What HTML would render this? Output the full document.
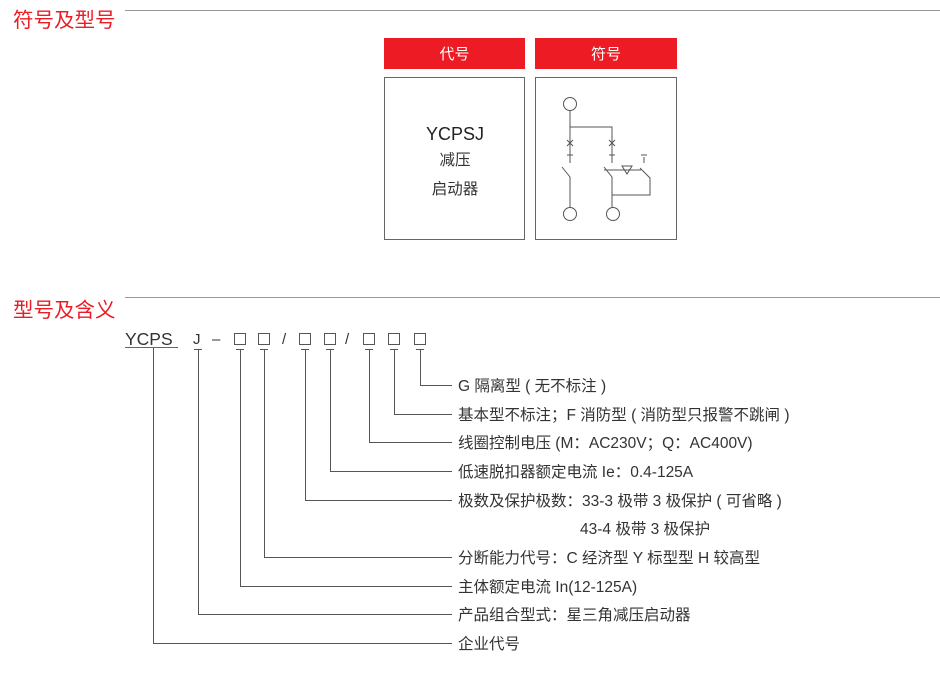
<!DOCTYPE html>
<html><head><meta charset="utf-8"><style>
body{margin:0;background:#fff;width:940px;height:685px;overflow:hidden;font-family:"Liberation Sans","Noto Sans CJK SC",sans-serif;}
svg{position:absolute;left:0;top:0}
</style></head><body>
<svg width="940" height="685" xmlns="http://www.w3.org/2000/svg" font-family="Liberation Sans, Noto Sans CJK SC, sans-serif">
<text x="13" y="27" font-size="20.5" fill="#ed1c24">符号及型号</text>
<line x1="125" y1="10.5" x2="940" y2="10.5" stroke="#999" stroke-width="1"/>
<text x="13" y="317" font-size="20.5" fill="#ed1c24">型号及含义</text>
<line x1="125" y1="297.5" x2="940" y2="297.5" stroke="#999" stroke-width="1"/>

<rect x="384" y="38" width="141" height="31" fill="#ed1c24"/>
<rect x="535" y="38" width="142" height="31" fill="#ed1c24"/>
<text x="454.5" y="59" font-size="15" fill="#fff" text-anchor="middle">代号</text>
<text x="606" y="59" font-size="15" fill="#fff" text-anchor="middle">符号</text>
<rect x="384.5" y="77.5" width="140" height="162" fill="none" stroke="#666"/>
<rect x="535.5" y="77.5" width="141" height="162" fill="none" stroke="#666"/>
<text x="455" y="140" font-size="18" fill="#222" text-anchor="middle">YCPSJ</text>
<text x="455" y="165" font-size="15.5" fill="#333" text-anchor="middle">减压</text>
<text x="455" y="194" font-size="15.5" fill="#333" text-anchor="middle">启动器</text>

<g stroke="#555" stroke-width="1" fill="none">
<circle cx="570" cy="104" r="6.5"/>
<circle cx="570" cy="214" r="6.5"/>
<circle cx="613" cy="214" r="6.5"/>
<path d="M570 110.5V160M570 127H612V160"/>
<path d="M567 140l6 6M573 140l-6 6M609 140l6 6M615 140l-6 6"/>
<path d="M567 155h6M609 155h6M641 155h6"/>
<path d="M570 157v6M612 157v6M644 157v6"/>
<path d="M562 167l8 10V207.5M604 167l8 10V207.5M604 170H641M640 168l10 10V195H612"/>
<path d="M622 166h10l-5 8z"/>
</g>

<text x="125" y="345" font-size="17.5" fill="#333">YCPS</text>
<line x1="125" y1="347.5" x2="178" y2="347.5" stroke="#666"/>
<text x="193" y="344" font-size="15" fill="#333">J</text>
<text x="212" y="344" font-size="15" fill="#333">–</text>
<text x="282" y="344" font-size="15" fill="#333">/</text>
<text x="345" y="344" font-size="15" fill="#333">/</text>
<g fill="none" stroke="#555" stroke-width="1">
<rect x="234.5" y="333.5" width="11" height="11"/>
<rect x="258.5" y="333.5" width="11" height="11"/>
<rect x="299.5" y="333.5" width="11" height="11"/>
<rect x="324.5" y="333.5" width="11" height="11"/>
<rect x="363.5" y="333.5" width="11" height="11"/>
<rect x="388.5" y="333.5" width="11" height="11"/>
<rect x="414.5" y="333.5" width="11" height="11"/>
<path d="M236 349.5h8M260 349.5h8M301 349.5h8M326 349.5h8M365 349.5h8M390 349.5h8M416 349.5h8M194 349.5h8"/>
<path d="M420.5 349V385.5H452M394.5 349V414.5H452M369.5 349V442.5H452M330.5 349V471.5H452M305.5 349V500.5H452M264.5 349V557.5H452M240.5 349V586.5H452M198.5 349V614.5H452M153.5 348V643.5H452"/>
</g>
<g font-size="15.5" fill="#333">
<text x="458" y="391">G 隔离型 ( 无不标注 )</text>
<text x="458" y="420">基本型不标注；F 消防型 ( 消防型只报警不跳闸 )</text>
<text x="458" y="448">线圈控制电压 (M：AC230V；Q：AC400V)</text>
<text x="458" y="477">低速脱扣器额定电流 Ie：0.4-125A</text>
<text x="458" y="506">极数及保护极数：33-3 极带 3 极保护 ( 可省略 )</text>
<text x="580" y="534">43-4 极带 3 极保护</text>
<text x="458" y="563">分断能力代号：C 经济型 Y 标型型 H 较高型</text>
<text x="458" y="592">主体额定电流 In(12-125A)</text>
<text x="458" y="620">产品组合型式：星三角减压启动器</text>
<text x="458" y="649">企业代号</text>
</g>
</svg>
</body></html>
